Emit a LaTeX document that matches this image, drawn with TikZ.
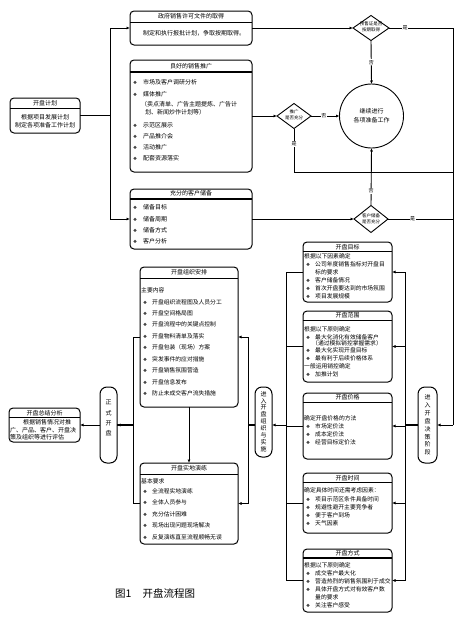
\documentclass[tikz,border=0pt]{standalone}
\usepackage{fontspec}
\setmainfont{Noto Sans CJK SC}
\newfontfamily\dvfont{DejaVu Sans}
\usetikzlibrary{shapes.geometric,arrows.meta}
\newcommand\fsa{\fontsize{6}{7}\selectfont}
\newcommand\fsb{\fontsize{5.8}{7}\selectfont}
\newcommand\blt{\makebox[9pt][l]{\dvfont\fontsize{4.5}{5}\selectfont ❖}}
\newcommand\bltw{\makebox[10pt][l]{\dvfont\fontsize{4.5}{5}\selectfont ❖}}
\begin{document}
\begin{tikzpicture}[x=1pt,y=-1pt,
  bx/.style={draw,rounded corners=4pt,line width=1pt,inner sep=0,outer sep=0,anchor=north west},
  vbx/.style={draw,rounded corners=7pt,line width=1pt,inner sep=0,outer sep=0,anchor=north west},
  sepl/.style={line width=0.9pt},
  sepk/.style={line width=1.7pt},
  t/.style={anchor=west,inner sep=0,font=\fsa},
  tr/.style={anchor=west,inner sep=0,font=\fsb},
  ttl/.style={inner sep=0,font=\fsa},
  vt/.style={inner sep=0,align=center,font=\fontsize{6}{7.9}\selectfont},
  dia/.style={draw,diamond,line width=0.9pt,inner sep=0,outer sep=0},
  dt/.style={inner sep=0,align=center,font=\fontsize{4.5}{6.3}\selectfont},
  ln/.style={line width=0.9pt},
  thk/.style={line width=1.6pt},
  arr/.style={line width=0.9pt,-{Latex[length=3.5pt,width=3pt]}},
  lbl/.style={fill=white,inner sep=0.6pt,font=\fontsize{5}{5}\selectfont}]
\fill[white] (0,0) rectangle (475,629);
\useasboundingbox (0,0) rectangle (475,629);

% ---------- 开盘计划 ----------
\node[bx,minimum width=70pt,minimum height=35pt] (plan) at (10,98) {};
\draw[sepl] (10,108) -- (80,108);
\node[ttl] (planT) at (45,103) {开盘计划};
\node[ttl] (plan1) at (45,117) {根据项目发展计划};
\node[ttl] (plan2) at (45,125.5) {制定各项准备工作计划};

% ---------- 政府销售许可文件的取得 ----------
\node[bx,minimum width=122pt,minimum height=34pt] (gov) at (130,11) {};
\draw[sepl] (130,22) -- (252,22);
\node[ttl] (govT) at (191,16.5) {政府销售许可文件的取得};
\node[t] (gov1) at (143,33) {制定和执行报批计划，争取按期取得。};

% ---------- 良好的销售推广 ----------
\node[bx,minimum width=122pt,minimum height=112pt] (promo) at (130,60) {};
\draw[sepk] (130,72) -- (252,72);
\node[ttl] (promoT) at (191,66) {良好的销售推广};
\node[t] (p1) at (133,82) {\bltw 市场及客户调研分析};
\node[t] (p2) at (133,94) {\bltw 媒体推广};
\node[t] (p3) at (141,104.5) {（卖点清单、广告主题提炼、广告计};
\node[t] (p4) at (145,112) {划、新闻炒作计划等）};
\node[t] (p5) at (133,125) {\bltw 示范区展示};
\node[t] (p6) at (133,136) {\bltw 产品推介会};
\node[t] (p7) at (133,147) {\bltw 活动推广};
\node[t] (p8) at (133,158) {\bltw 配套资源落实};

% ---------- 充分的客户储备 ----------
\node[bx,minimum width=122pt,minimum height=60pt] (stock) at (130,189) {};
\draw[sepk] (130,199) -- (252,199);
\node[ttl] (stockT) at (191,193.5) {充分的客户储备};
\node[t] (s1) at (133,207) {\bltw 储备目标};
\node[t] (s2) at (133,219) {\bltw 储备周期};
\node[t] (s3) at (133,230) {\bltw 储备方式};
\node[t] (s4) at (133,241) {\bltw 客户分析};

% ---------- diamonds and circle ----------
\node[dia,minimum width=36pt,minimum height=25pt] (d1) at (371,28) {};
\node[dt] (d1T) at (371,27) {预售证是否\\按期取得};
\node[dia,minimum width=34pt,minimum height=25pt] (d2) at (294,116) {};
\node[dt] (d2T) at (294,115) {推广\\是否充分};
\node[dia,minimum width=34pt,minimum height=27pt] (d3) at (371,219) {};
\node[dt] (d3T) at (371,219) {客户储备\\是否充分};
\node[draw,circle,line width=0.9pt,minimum size=64pt,inner sep=0,outer sep=0,align=center,font=\fontsize{6}{9}\selectfont] (c) at (371.5,116) {继续进行\\各项准备工作};

% ---------- right column ----------
\node[bx,minimum width=89pt,minimum height=60pt] (tgt) at (303,242) {};
\draw[sepl] (303,251.5) -- (392,251.5);
\node[ttl] (tgtT) at (347.5,247) {开盘目标};
\node[tr] (a0) at (304,256.5) {根据以下因素确定};
\node[tr] (a1) at (306,264.5) {\blt 公司年度销售指标对开盘目};
\node[tr] (a2) at (315,272) {标的要求};
\node[tr] (a3) at (306,280) {\blt 客户储备情况};
\node[tr] (a4) at (306,288) {\blt 首次开盘要达到的市场氛围};
\node[tr] (a5) at (306,296) {\blt 项目发展规模};

\node[bx,minimum width=89pt,minimum height=71pt] (scope) at (303,311) {};
\draw[sepl] (303,320) -- (392,320);
\node[ttl] (scopeT) at (347.5,315.5) {开盘范围};
\node[tr] (b0) at (304,329) {根据以下原则确定};
\node[tr] (b1) at (306,337) {\blt 最大化消化有效储备客户};
\node[tr] (b2) at (312,343.5) {（通过模拟销控掌握需求）};
\node[tr] (b3) at (306,350.5) {\blt 最大化实现开盘目标};
\node[tr] (b4) at (306,358) {\blt 最有利于后续价格体系};
\node[tr] (b5) at (304,366) {一般运用销控确定};
\node[tr] (b6) at (306,374) {\blt 加推计划};

\node[bx,minimum width=89pt,minimum height=66pt] (price) at (303,393) {};
\draw[sepl] (303,402.5) -- (392,402.5);
\node[ttl] (priceT) at (347.5,397.5) {开盘价格};
\node[tr] (c0) at (304,418) {确定开盘价格的方法};
\node[tr] (c1) at (306,426) {\blt 市场定价法};
\node[tr] (c2) at (306,434) {\blt 成本定价法};
\node[tr] (c3) at (306,442) {\blt 经营目标定价法};

\node[bx,minimum width=89pt,minimum height=60pt] (time) at (303,473) {};
\draw[sepl] (303,482.5) -- (392,482.5);
\node[ttl] (timeT) at (347.5,478) {开盘时间};
\node[tr] (e0) at (304,490) {确定具体时间还需考虑因素：};
\node[tr] (e1) at (306,499) {\blt 项目示范区条件具备时间};
\node[tr] (e2) at (306,507) {\blt 规避性避开主要竞争者};
\node[tr] (e3) at (306,515) {\blt 便于客户到场};
\node[tr] (e4) at (306,523) {\blt 天气因素};

\node[bx,minimum width=89pt,minimum height=63pt] (mode) at (303,549) {};
\draw[sepk] (303,558) -- (392,558);
\node[ttl] (modeT) at (347.5,553.5) {开盘方式};
\node[tr] (f0) at (304,565.5) {根据以下原则确定};
\node[tr] (f1) at (306,573.5) {\blt 成交客户最大化};
\node[tr] (f2) at (306,581.5) {\blt 营造热烈的销售氛围利于成交};
\node[tr] (f3) at (306,589.5) {\blt 具体开盘方式对有效客户数};
\node[tr] (f4) at (315,597) {量的要求};
\node[tr] (f5) at (306,605) {\blt 关注客户感受};

% ---------- 进入开盘决策阶段 / 进入开盘组织与实施 ----------
\node[vbx,minimum width=19pt,minimum height=76pt] (dec) at (418,387) {};
\node[vt] (decT) at (427.5,425) {进\\入\\开\\盘\\决\\策\\阶\\段};
\node[vbx,minimum width=17pt,minimum height=70pt] (impl) at (255,387) {};
\node[vt,font=\fontsize{6}{6.9}\selectfont] (implT) at (263.5,421.5) {进\\入\\开\\盘\\组\\织\\与\\实\\施};

% ---------- 开盘组织安排 ----------
\node[bx,minimum width=98pt,minimum height=140pt] (org) at (140,267) {};
\draw[sepl] (140,278) -- (238,278);
\node[ttl] (orgT) at (189,272.5) {开盘组织安排};
\node[tr] (o0) at (141,290) {主要内容};
\node[tr] (o1) at (143,302) {\blt 开盘组织流程图及人员分工};
\node[tr] (o2) at (143,313) {\blt 开盘空间格局图};
\node[tr] (o3) at (143,324.5) {\blt 开盘流程中的关键点控制};
\node[tr] (o4) at (143,336) {\blt 开盘物料清单及落实};
\node[tr] (o5) at (143,347.5) {\blt 开盘包装（现场）方案};
\node[tr] (o6) at (143,359) {\blt 突发事件的应对措施};
\node[tr] (o7) at (143,370.5) {\blt 开盘销售氛围营造};
\node[tr] (o8) at (143,382) {\blt 开盘信息发布};
\node[tr] (o9) at (143,393.5) {\blt 防止未成交客户流失措施};

% ---------- 开盘实地演练 ----------
\node[bx,minimum width=98pt,minimum height=81pt] (drill) at (140,463) {};
\draw[sepl] (140,474) -- (238,474);
\node[ttl] (drillT) at (189,468.5) {开盘实地演练};
\node[tr] (r0) at (141,481) {基本要求};
\node[tr] (r1) at (143,491.5) {\blt 全流程实地演练};
\node[tr] (r2) at (143,502.5) {\blt 全体人员参与};
\node[tr] (r3) at (143,514) {\blt 充分估计困难};
\node[tr] (r4) at (143,525.5) {\blt 现场出现问题现场解决};
\node[tr] (r5) at (143,537) {\blt 反复演练直至流程顺畅无误};

% ---------- 正式开盘 / 开盘总结分析 ----------
\node[vbx,minimum width=17pt,minimum height=76pt] (formal) at (100,387) {};
\node[vt,font=\fontsize{6}{10.3}\selectfont] (formalT) at (108.5,418) {正\\式\\开\\盘};
\node[bx,minimum width=71pt,minimum height=34pt] (summ) at (9,408) {};
\draw[sepl] (9,417.5) -- (80,417.5);
\node[ttl] (summT) at (44.5,413) {开盘总结分析};
\node[t] (m1) at (23,422.5) {根据销售情况对推};
\node[t] (m2) at (10,430) {广、产品、客户、开盘决};
\node[t] (m3) at (10,437.5) {策及组织等进行评估};

% ---------- caption ----------
\node[anchor=west,inner sep=0,font=\fontsize{10.5}{12}\selectfont] (cap) at (115,593) {图1\hspace{11pt}开盘流程图};

% ---------- connectors: top part ----------
\coordinate (L1) at (110,115.5);
\draw[thk] (plan.east) -- (L1);
\draw[arr] (L1) |- (gov.west);
\draw[arr] (L1) |- (stock.west);
\draw[arr] (gov.east) -- (d1.west);
\draw[arr] (promo.east |- d2.west) -- (d2.west);
\draw[arr] (stock.east |- d3.west) -- (d3.west);
\draw[arr] (d1.south) -- node[lbl,pos=0.5]{否} (c.north);
\draw[arr] (d2.east) -- node[lbl,pos=0.45]{否} (c.west);
\draw[arr] (d3.north) -- node[lbl,pos=0.25]{否} (c.south);

\coordinate (RT) at (453,28);
\coordinate (RB) at (453,425);
\coordinate (B2) at (294,172);
\coordinate (R172) at (453,172);
\coordinate (R219) at (453,219);
\draw[ln] (d1.east) -- node[lbl,pos=0.25]{是} (RT) -- (RB);
\draw[ln] (d2.south) -- node[lbl,pos=0.36]{是} (B2) -- (R172);
\draw[ln] (d3.east) -- node[lbl,pos=0.38]{是} (R219);
\draw[arr] (RB) -- (dec.east |- RB);

% ---------- right column distribution ----------
\coordinate (R) at (405,425);
\draw[thk] (dec.west |- R) -- (R);
\draw[arr] (R) |- (tgt.east);
\draw[arr] (R) |- (scope.east);
\draw[arr] (R) |- (price.east);
\draw[arr] (R) |- (time.east);
\draw[arr] (R) |- (mode.east);

\coordinate (Q) at (286,425);
\draw[ln] (tgt.west) -| (Q);
\draw[ln] (scope.west) -| (Q);
\draw[ln] (price.west) -| (Q);
\draw[ln] (time.west) -| (Q);
\draw[ln] (mode.west) -| (Q);
\draw[arr] (Q) -- (impl.east |- Q);

% ---------- left lower part ----------
\coordinate (P) at (248,425);
\draw[thk] (impl.west |- P) -- (P);
\draw[arr] (P) |- (org.east);
\draw[arr] (P) |- (drill.east);
\draw[arr] (org.south) -- (drill.north);

\coordinate (K) at (133,425);
\draw[ln] (org.west) -| (K);
\draw[ln] (drill.west) -| (K);
\draw[thk] (K) -- (formal.east |- K);
\draw[arr] (K) -- (formal.east |- K);
\draw[arr] (formal.west |- K) -- (summ.east |- K);
\end{tikzpicture}
\end{document}
